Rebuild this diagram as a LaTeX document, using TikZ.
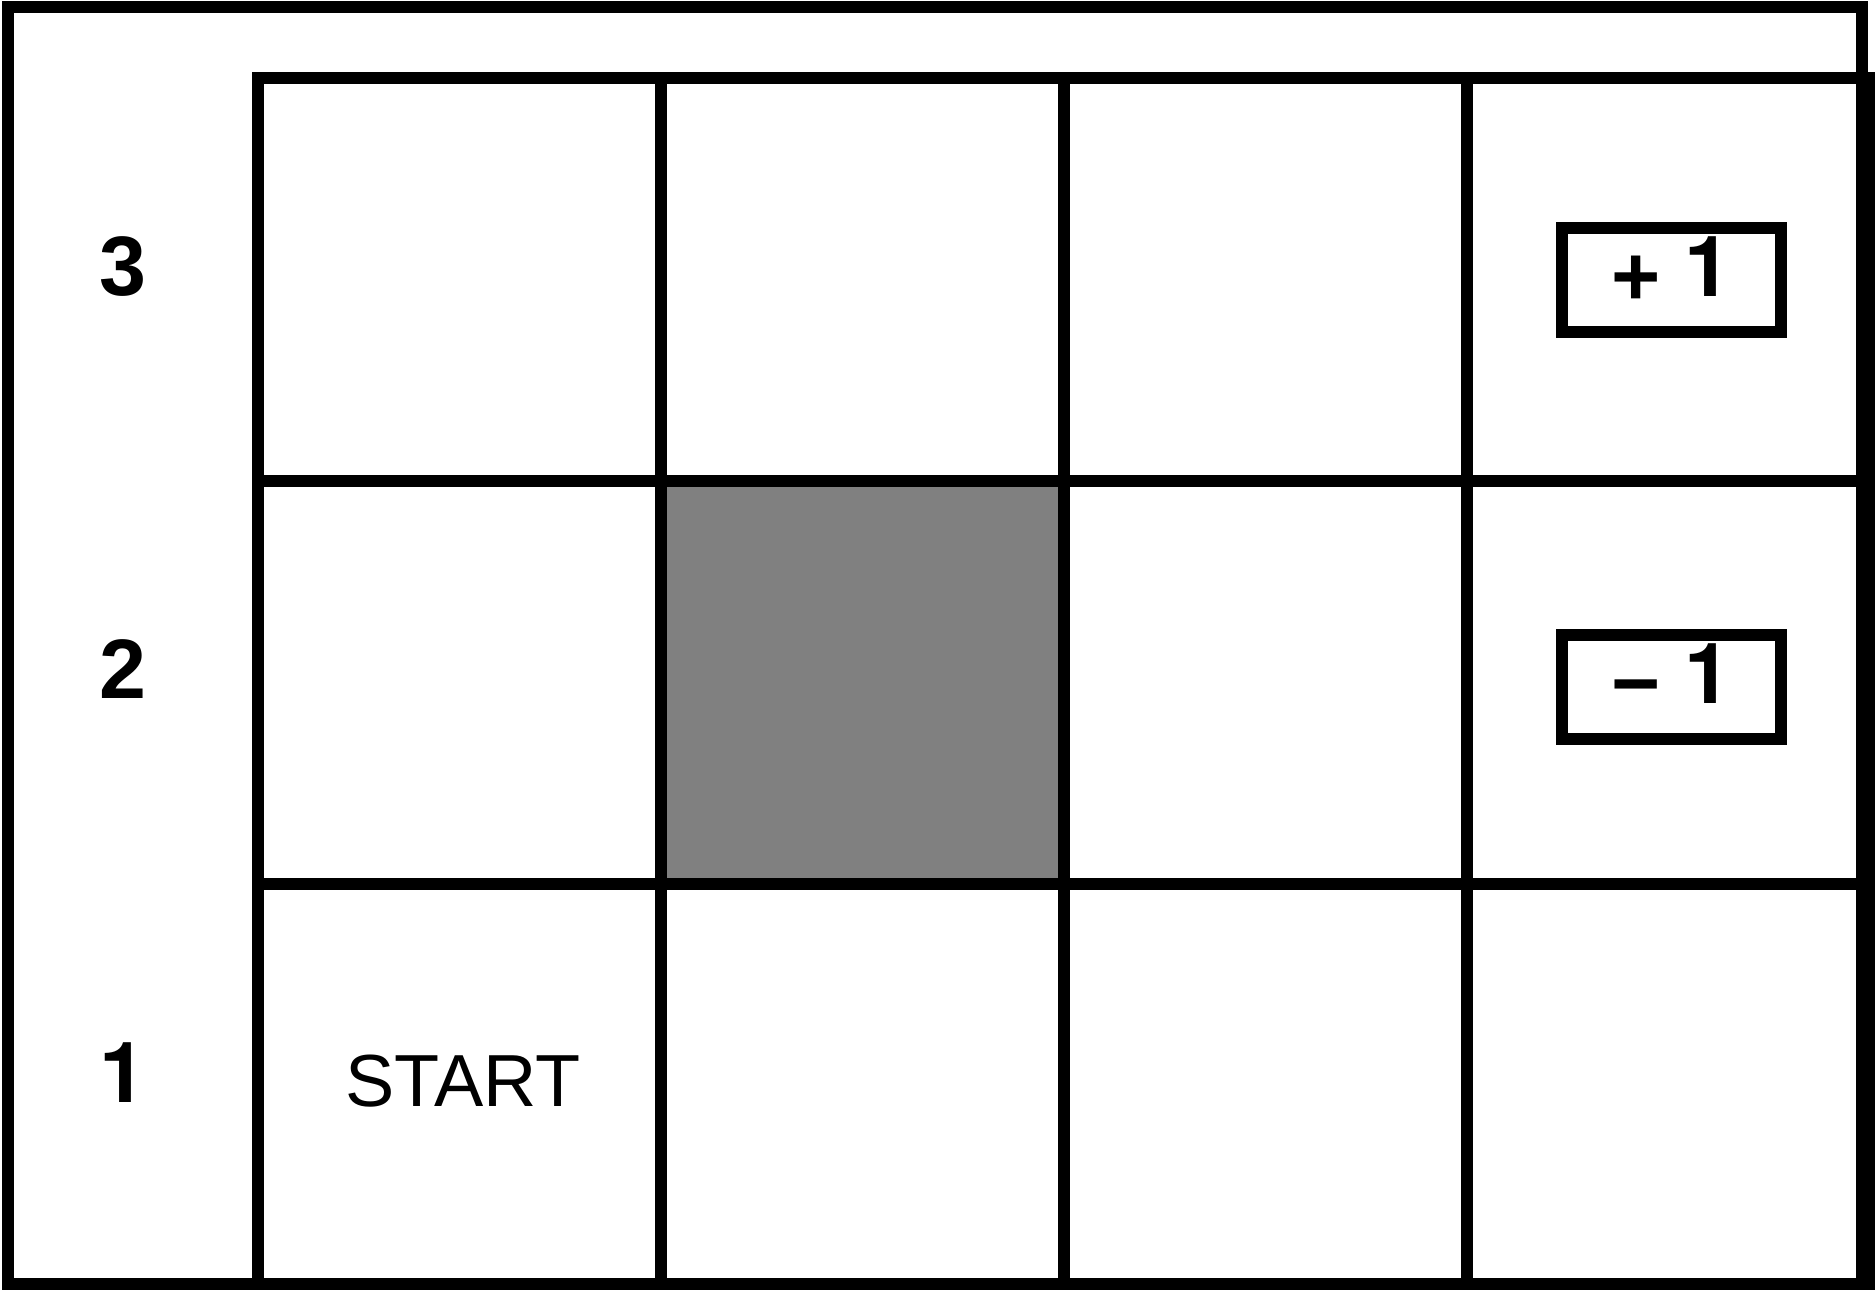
\documentclass[tikz,border=0pt]{standalone}
\usepackage{fontspec}
\setmainfont{Liberation Sans}
\newfontfamily\digitfont{TeX Gyre Heros}
\usepackage{tikz}
\usepackage{xcolor}
\definecolor{blocked}{gray}{0.5}
\newcommand\lowsign[1]{\raisebox{-0.09cm}{#1}}

\begin{document}
\begin{tikzpicture}[x=1cm,y=1cm,
    frame/.style={draw,line width=0.12cm},
    gridline/.style={draw,line width=0.12cm},
    rowlabel/.style={font=\fontsize{24}{28}\selectfont\bfseries,inner sep=0pt},
    reward/.style={draw,line width=0.12cm,minimum width=2.19cm,minimum height=1.04cm,
                   inner sep=0pt,text depth=0.27cm,
                   font=\fontsize{24}{28}\selectfont\bfseries},
    cellnote/.style={font=\fontsize{21}{24}\selectfont,inner sep=0pt}]
    \useasboundingbox (0,0) rectangle (18.75,12.90);
    \draw[frame] (0.08,0.055) rectangle (18.615,12.83);

    % world grid, wall cell first
    \fill[blocked] (6.61,4.06) rectangle (10.64,8.09);
    \draw[gridline] (2.58,0.03) rectangle (18.70,12.12);
    \foreach \x in {6.61,10.64,14.67}
        \draw[gridline] (\x,0.03) -- (\x,12.12);
    \foreach \y in {4.06,8.09}
        \draw[gridline] (2.58,\y) -- (18.70,\y);

    \node[rowlabel] (row3) at (1.225,10.23) {3};
    \node[rowlabel] (row2) at (1.225,6.21) {2};
    \node[rowlabel] (row1) at (1.225,2.17) {\digitfont 1};

    \node[cellnote] (start) at (4.63,2.085) {START};
    \node[reward] (goal) at (16.715,10.10) {\lowsign{+} {\digitfont 1}\hspace{0.05cm}};
    \node[reward] (pit) at (16.715,6.025) {\lowsign{−} {\digitfont 1}\hspace{0.05cm}};
\end{tikzpicture}
\end{document}
